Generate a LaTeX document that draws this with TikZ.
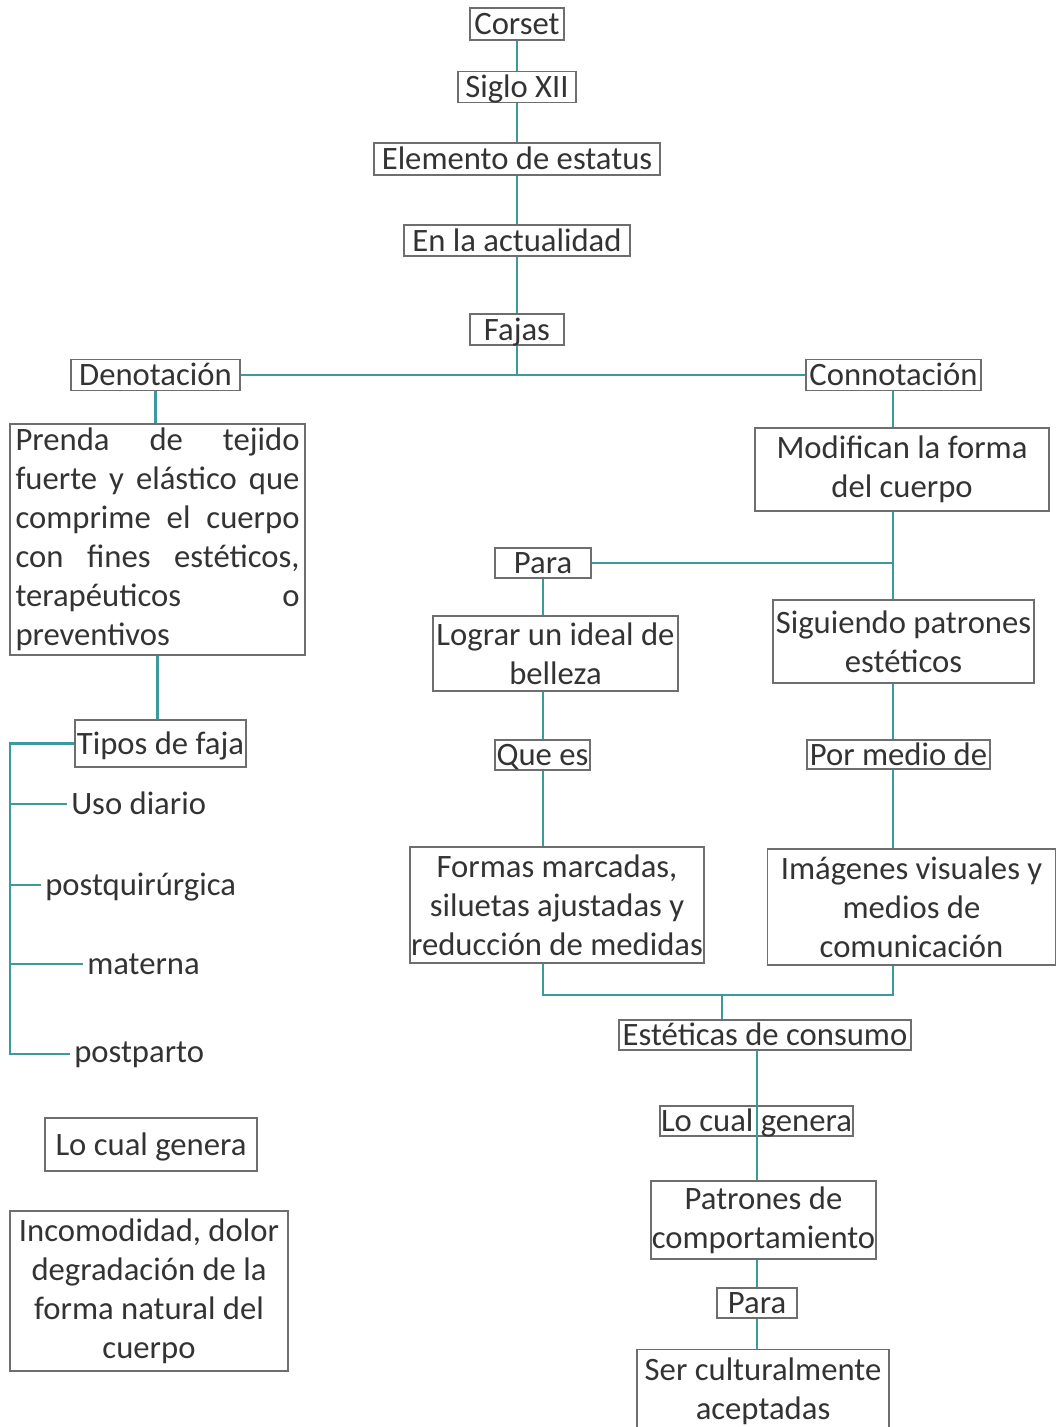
\documentclass[tikz,border=0pt]{standalone}
\usepackage{fontspec}
\setmainfont{Carlito}
\definecolor{teal1}{HTML}{3C9A9C}
\definecolor{bgray}{HTML}{6E6E6E}
\definecolor{txt}{HTML}{333333}
\begin{document}
\begin{tikzpicture}[x=0.75pt,y=-0.75pt,
 every node/.style={font=\fontsize{24.5}{29.25}\selectfont, text=txt},
 bx/.style={draw=bgray, line width=1.1pt, inner sep=0pt},
 one/.style={bx, text height=16pt, text depth=0pt},
 wh/.style 2 args={minimum width=#1*0.75pt, minimum height=#2*0.75pt},
 conn/.style={draw=teal1, line width=1.7pt},
 lbl/.style={inner xsep=3pt, inner ysep=0pt, text height=16pt, text depth=0pt, anchor=west}]
\useasboundingbox (0,0) rectangle (1056,1427);
\clip (0,0) rectangle (1056,1427);

% spine coordinates
\coordinate (L) at (543,0);
\coordinate (R) at (893,0);
\coordinate (M) at (757,0);

% top chain
\node[one, wh={94}{32}] (corset) at (517,24) {Corset};
\node[one, wh={118}{31}] (siglo) at (517,87) {Siglo XII};
\node[one, wh={286}{32}] (elem) at (517,159) {Elemento de estatus};
\node[one, wh={226}{31}] (enla) at (517,240.5) {En la actualidad};
\node[one, wh={94}{31}] (fajas) at (517,329.5) {Fajas};
\node[one, wh={169}{31}] (deno) at (155.5,375) {Denotación};
\node[one, wh={175}{31}] (conno) at (893.5,375) {Connotación};

% left branch
\node[bx, wh={295}{231}, text width=213pt, align=justify] (prenda) at (157.5,539.5)
 {Prenda de tejido\linebreak fuerte y elástico que\linebreak comprime el cuerpo\linebreak con fines estéticos,\linebreak terapéuticos o\linebreak preventivos};
\node[one, wh={171}{47}] (tipos) at (160.5,743.5) {Tipos de faja};
\node[lbl] (uso) at (67,804) {Uso diario};
\node[lbl] (postq) at (41,885) {postquirúrgica};
\node[lbl] (mat) at (83,964) {materna};
\node[lbl] (pp) at (70,1052) {postparto};
\node[one, wh={212}{53}] (locg1) at (151,1144.5) {Lo cual genera};
\node[bx, wh={278}{160}, align=center] (inc) at (149,1291)
 {Incomodidad, dolor\\degradación de la\\forma natural del\\cuerpo};

% right branch
\node[bx, wh={294}{83}, align=center] (modif) at (902,469.5) {Modifican la forma\\del cuerpo};
\node[one, wh={96}{30}] (para1) at (543,563) {Para};
\node[bx, wh={245}{75}, align=center] (lograr) at (555.5,653.5) {Lograr un ideal de\\belleza};
\node[one, wh={95}{30}] (quees) at (542.5,755) {Que es};
\node[bx, wh={294}{116}, align=center] (formas) at (557,905) {Formas marcadas,\\siluetas ajustadas y\\reducción de medidas};
\node[bx, wh={261}{83}, align=center] (sig) at (903.5,641.5) {Siguiendo patrones\\estéticos};
\node[one, wh={183}{29}] (pm) at (898.5,754.5) {Por medio de};
\node[bx, wh={288}{116}, align=center] (imag) at (911.5,907) {Imágenes visuales y\\medios de\\comunicación};
\node[one, wh={292}{30}] (est) at (765,1035) {Estéticas de consumo};
\node[one, wh={193}{30}] (locg2) at (756.5,1121) {Lo cual genera};
\node[bx, wh={225}{78}, align=center] (patr) at (763.5,1220) {Patrones de\\comportamiento};
\node[one, wh={80}{30}] (para2) at (757,1303) {Para};
\node[bx, wh={252}{84}, align=center, anchor=north] (ser) at (763,1349) {Ser culturalmente\\aceptadas};

% connectors: top chain
\draw[conn] (corset) -- (siglo);
\draw[conn] (siglo) -- (elem);
\draw[conn] (elem) -- (enla);
\draw[conn] (enla) -- (fajas);
\draw[conn] (fajas.south) -- (fajas.south |- deno.east);
\draw[conn] (deno.east) -- (conno.west);

% left connectors
\draw[conn] (deno.south) -- (deno.south |- prenda.north);
\draw[conn] (prenda.south) -- (prenda.south |- tipos.north);
\coordinate (bt) at (10,743.5);
\coordinate (bb) at (10,1054);
\draw[conn] (tipos.west) -- (bt) -- (bb) -- (pp.west |- bb);
\draw[conn] (uso.west -| bt) -- (uso.west);
\draw[conn] (postq.west -| bt) -- (postq.west);
\draw[conn] (mat.west -| bt) -- (mat.west);

% right connectors
\draw[conn] (conno.south -| R) -- (modif.north -| R);
\draw[conn] (modif.south -| R) -- (sig.north -| R);
\draw[conn] (para1.east) -- (para1.east -| R);
\draw[conn] (para1.south -| L) -- (lograr.north -| L);
\draw[conn] (lograr.south -| L) -- (quees.north -| L);
\draw[conn] (quees.south -| L) -- (formas.north -| L);
\draw[conn] (sig.south -| R) -- (pm.north -| R);
\draw[conn] (pm.south -| R) -- (imag.north -| R);
\coordinate (jl) at (543,995);
\coordinate (jr) at (893,995);
\coordinate (jm) at (722,995);
\draw[conn] (formas.south -| L) -- (jl) -- (jr) -- (imag.south -| R);
\draw[conn] (jm) -- (jm |- est.north);
\draw[conn] (est.south -| M) -- (patr.north -| M);
\draw[conn] (patr.south -| M) -- (para2.north -| M);
\draw[conn] (para2.south -| M) -- (ser.north -| M);
\end{tikzpicture}
\end{document}
